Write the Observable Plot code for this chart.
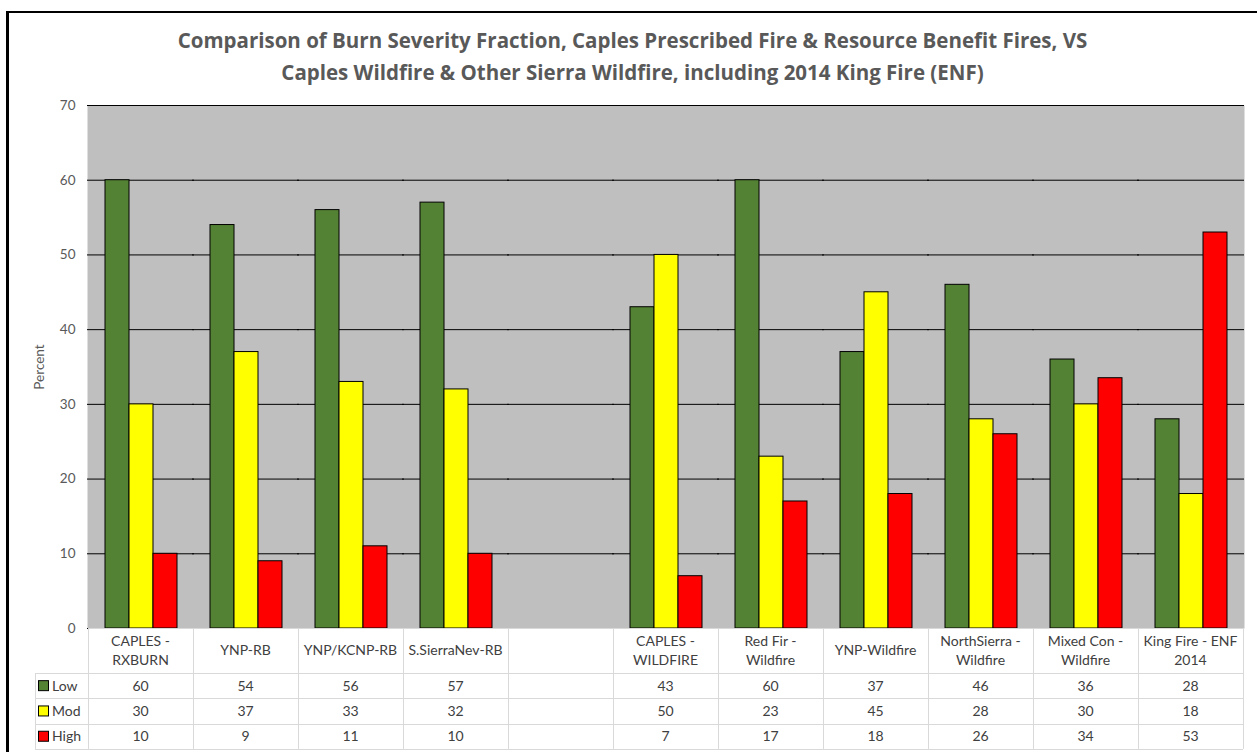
<!DOCTYPE html>
<html><head><meta charset="utf-8">
<script src="https://cdn.jsdelivr.net/npm/d3@7"></script>
<script src="https://cdn.jsdelivr.net/npm/@observablehq/plot@0.6"></script>
<style>
html,body{margin:0;padding:0;background:#fff;}
#wrap{position:relative;width:1257px;height:752px;overflow:hidden;font-family:Lato,"Open Sans",sans-serif;}
#border{position:absolute;left:6px;top:11px;right:-10px;bottom:-10px;border-top:2px solid #000;border-left:3px solid #000;}
#title{position:absolute;left:8px;right:0;top:24px;text-align:center;color:#595959;font-family:"Open Sans",sans-serif;font-weight:700;font-size:20.5px;line-height:32px;}
#chart{position:absolute;left:0;top:90px;}
</style></head><body>
<div id="wrap"><div id="border"></div>
<div id="title">Comparison of Burn Severity Fraction, Caples Prescribed Fire &amp; Resource Benefit Fires, VS<br>Caples Wildfire &amp; Other Sierra Wildfire, including 2014 King Fire (ENF)</div>
<div id="chart"></div></div>
<script>
const categories = ["CAPLES - RXBURN","YNP-RB","YNP/KCNP-RB","S.SierraNev-RB","","CAPLES - WILDFIRE","Red Fir - Wildfire","YNP-Wildfire","NorthSierra - Wildfire","Mixed Con - Wildfire","King Fire - ENF 2014"];
const categoryLabels = ["CAPLES -\nRXBURN","YNP-RB","YNP/KCNP-RB","S.SierraNev-RB","","CAPLES -\nWILDFIRE","Red Fir -\nWildfire","YNP-Wildfire","NorthSierra -\nWildfire","Mixed Con -\nWildfire","King Fire - ENF\n2014"];
const series = ["Low","Mod","High"];
const seriesColors = ["#548235","#ffff00","#ff0000"];
const lowValues  = [60,54,56,57,null,43,60,37,46,36,28];
const modValues  = [30,37,33,32,null,50,23,45,28,30,18];
const highValues = [10,9,11,10,null,7,17,18,26,33.5,53];
const yTicks = [0,10,20,30,40,50,60,70];

const seriesValues = [lowValues, modValues, highValues];
const data = [];
categories.forEach((c, i) => series.forEach((s, j) => data.push({category: c, series: s, value: seriesValues[j][i]})));

const plot = Plot.plot({
  width: 1257, height: 662,
  marginTop: 15, marginBottom: 124, marginLeft: 88, marginRight: 14,
  style: {fontFamily: "Lato, 'Open Sans', sans-serif", fontSize: "13.5px", color: "#595959", background: "transparent", overflow: "visible"},
  fx: {domain: categories, padding: 0, axis: null, label: null},
  x: {domain: series, paddingInner: 0, paddingOuter: 0.6875, axis: null},
  y: {domain: [0, 70], ticks: 7, tickSize: 0, tickPadding: 13, label: "Percent", labelArrow: "none", labelAnchor: "center", labelOffset: 54},
  color: {domain: series, range: seriesColors},
  marks: [
    Plot.frame({fill: "#bfbfbf", stroke: "none", insetLeft: -1, insetRight: -1}),
    Plot.ruleY(yTicks, {stroke: "#000", strokeWidth: 1, insetLeft: -1, insetRight: -1}),
    Plot.barY(data, {fx: "category", x: "series", y: "value", fill: "series", stroke: "#000", strokeWidth: 1})
  ]
});
document.getElementById("chart").appendChild(plot);
d3.select(plot).selectAll("text").each(function() {
  const t = d3.select(this).text();
  if (/Percent/.test(t) && /[→↑]/.test(t)) d3.select(this).text("Percent");
});

// Data table drawn from the plot's own scales
const fxDesc = plot.scale("fx");
const fxBand = d3.scaleBand().domain(fxDesc.domain).range(fxDesc.range)
  .paddingInner(fxDesc.paddingInner ?? 0).paddingOuter(fxDesc.paddingOuter ?? 0).align(fxDesc.align ?? 0.5);
const fxAt = v => fxBand(v);
const bw = fxBand.bandwidth();
const yDesc = plot.scale("y");
const yBottom = d3.scaleLinear().domain(yDesc.domain).range(yDesc.range)(0);
const colorOf = s => seriesColors[series.indexOf(s)];

const svg = d3.select(plot);
const g = svg.append("g").attr("font-family", "Lato, 'Open Sans', sans-serif").attr("font-size", 14).attr("fill", "#404040").attr("text-anchor", "middle");
const headerH = 45, rowH = 25.3;
const left = fxAt(categories[0]), right = fxAt(categories[categories.length - 1]) + bw;
const legendLeft = 35;
const lineColor = "#d9d9d9";
const bottom = yBottom + headerH + rowH * 3;
g.append("line").attr("x1", left).attr("x2", right).attr("y1", yBottom + 0.5).attr("y2", yBottom + 0.5).attr("stroke", lineColor);
for (let r = 0; r <= 3; r++) {
  const yy = Math.round(yBottom + headerH + rowH * r) + 0.5;
  g.append("line").attr("x1", legendLeft).attr("x2", right).attr("y1", yy).attr("y2", yy).attr("stroke", lineColor);
}
g.append("line").attr("x1", legendLeft + 0.5).attr("x2", legendLeft + 0.5).attr("y1", yBottom + headerH).attr("y2", bottom).attr("stroke", lineColor);
categories.forEach(c => {
  const xx = Math.round(fxAt(c)) + 0.5;
  g.append("line").attr("x1", xx).attr("x2", xx).attr("y1", yBottom).attr("y2", bottom).attr("stroke", lineColor);
});
g.append("line").attr("x1", Math.round(right) + 0.5).attr("x2", Math.round(right) + 0.5).attr("y1", yBottom).attr("y2", bottom).attr("stroke", lineColor);
categories.forEach((c, i) => {
  const lines = categoryLabels[i].split("\n");
  const cx = fxAt(c) + bw / 2;
  const cy = yBottom + headerH / 2;
  lines.forEach((ln, k) => {
    g.append("text").attr("x", cx).attr("y", cy + (k - (lines.length - 1) / 2) * 19).attr("dy", "0.35em").text(ln);
  });
});
series.forEach((s, j) => {
  const cy = yBottom + headerH + rowH * j + rowH / 2;
  g.append("rect").attr("x", 38.5).attr("y", cy - 5).attr("width", 10).attr("height", 10).attr("fill", colorOf(s)).attr("stroke", "#000");
  g.append("text").attr("x", 52).attr("y", cy).attr("dy", "0.35em").attr("text-anchor", "start").text(s);
  categories.forEach((c, i) => {
    const v = seriesValues[j][i];
    if (v == null) return;
    g.append("text").attr("x", fxAt(c) + bw / 2).attr("y", cy).attr("dy", "0.35em").text(Math.round(v));
  });
});
</script>
</body></html>
